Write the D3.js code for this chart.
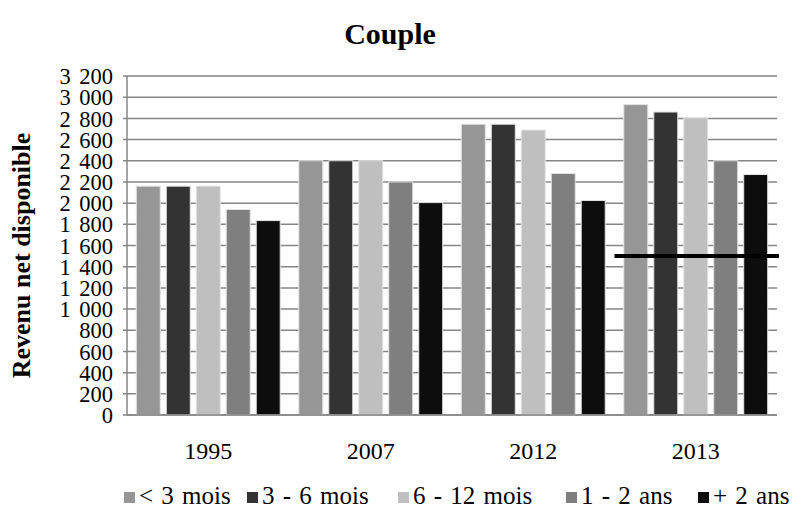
<!DOCTYPE html>
<html>
<head>
<meta charset="utf-8">
<script src="https://cdn.jsdelivr.net/npm/d3@7"></script>
<style>
  html, body { margin: 0; padding: 0; background: #fff; }
  svg { display: block; }
</style>
</head>
<body>
<svg id="chart" width="800" height="525"></svg>
<script>
const years = ["1995", "2007", "2012", "2013"];
const seriesNames = ["< 3 mois", "3 - 6 mois", "6 - 12 mois", "1 - 2 ans", "+ 2 ans"];
const seriesColors = ["#969696", "#333333", "#bfbfbf", "#7f7f7f", "#0d0d0d"];
const lt3mois   = [2160, 2400, 2745, 2930];
const m3to6     = [2160, 2400, 2745, 2860];
const m6to12    = [2160, 2400, 2690, 2805];
const a1to2     = [1940, 2200, 2280, 2400];
const plus2ans  = [1835, 2005, 2025, 2270];
const seriesValues = [lt3mois, m3to6, m6to12, a1to2, plus2ans];
const yTicks = [0, 200, 400, 600, 800, 1000, 1200, 1400, 1600, 1800, 2000, 2200, 2400, 2600, 2800, 3000, 3200];
const yTickLabels = ["0", "200", "400", "600", "800", "1 000", "1 200", "1 400", "1 600", "1 800", "2 000", "2 200", "2 400", "2 600", "2 800", "3 000", "3 200"];
const refLineValue = 1500;
const refLineYear = "2013";

(function () {
const FONT = "'Liberation Serif', 'Times New Roman', serif";
const svg = d3.select("#chart");
const mLeft = 127, mRight = 777, mTop = 76, mBottom = 415;

const y = d3.scaleLinear().domain([0, 3200]).range([mBottom, mTop]);
const x0 = d3.scaleBand().domain(years).range([mLeft, mRight]).padding(0);
const x1 = d3.scaleBand().domain(seriesNames).range([0, x0.bandwidth()])
  .paddingInner(0.2).paddingOuter(0.31);

// gridlines
svg.append("g").selectAll("line").data(yTicks).join("line")
  .attr("x1", mLeft - 4).attr("x2", mRight)
  .attr("y1", d => y(d)).attr("y2", d => y(d))
  .attr("stroke", "#868686").attr("stroke-width", 1.5);

// y axis line
svg.append("line").attr("x1", mLeft).attr("x2", mLeft).attr("y1", mTop).attr("y2", mBottom)
  .attr("stroke", "#868686").attr("stroke-width", 1.5);

// y tick labels
const yAxis = d3.axisLeft(y).tickValues(yTicks).tickSize(0).tickPadding(14)
  .tickFormat((d, i) => yTickLabels[i]);
const gy = svg.append("g").attr("transform", `translate(${mLeft},0)`).call(yAxis)
  .attr("font-family", null).attr("font-size", null);
gy.select(".domain").remove();
gy.selectAll("text").attr("dy", "0.34em")
  .style("font-family", FONT).style("font-size", "22.5px").style("fill", "#000")
  .style("word-spacing", "3px");

// bars
const groups = svg.append("g").selectAll("g").data(years).join("g")
  .attr("transform", d => `translate(${x0(d)},0)`);
groups.selectAll("rect")
  .data((yr, gi) => seriesNames.map((s, si) => ({ s, si, v: seriesValues[si][gi] })))
  .join("rect")
  .attr("x", d => x1(d.s))
  .attr("width", x1.bandwidth())
  .attr("y", d => y(d.v))
  .attr("height", d => y(0) - y(d.v))
  .attr("fill", d => seriesColors[d.si])
  .attr("stroke", "#e3e3e3").attr("stroke-width", 1);

// x axis line
svg.append("line").attr("x1", mLeft).attr("x2", mRight).attr("y1", mBottom).attr("y2", mBottom)
  .attr("stroke", "#868686").attr("stroke-width", 1.5);

// x labels
const xAxis = d3.axisBottom(x0).tickSize(0).tickPadding(27);
const gx = svg.append("g").attr("transform", `translate(0,${mBottom})`).call(xAxis)
  .attr("font-family", null).attr("font-size", null);
gx.select(".domain").remove();
gx.selectAll("text").style("font-family", FONT).style("font-size", "24px").style("fill", "#000");

// reference line
svg.append("line")
  .attr("x1", x0(refLineYear)).attr("x2", mRight + 2)
  .attr("y1", y(refLineValue)).attr("y2", y(refLineValue))
  .attr("stroke", "#000").attr("stroke-width", 4);

// title
svg.append("text").attr("x", 390).attr("y", 44).attr("text-anchor", "middle")
  .style("font-family", FONT).style("font-size", "30px").style("font-weight", "bold")
  .text("Couple");

// y axis title
svg.append("text").attr("transform", `translate(30,${(mTop + mBottom) / 2 + 10}) rotate(-90)`)
  .attr("text-anchor", "middle")
  .style("font-family", FONT).style("font-size", "26px").style("font-weight", "bold")
  .text("Revenu net disponible");

// legend
const legendX = [124, 247, 398, 566, 698];
const lg = svg.append("g").selectAll("g").data(seriesNames).join("g")
  .attr("transform", (d, i) => `translate(${legendX[i]},497)`);
lg.append("rect").attr("x", 0).attr("y", -5).attr("width", 11).attr("height", 11)
  .attr("fill", (d, i) => seriesColors[i]);
lg.append("text").attr("x", 15).attr("y", 7)
  .style("font-family", FONT).style("font-size", "25px").style("fill", "#000")
  .style("word-spacing", "2px")
  .text(d => d);
})();
</script>
</body>
</html>
